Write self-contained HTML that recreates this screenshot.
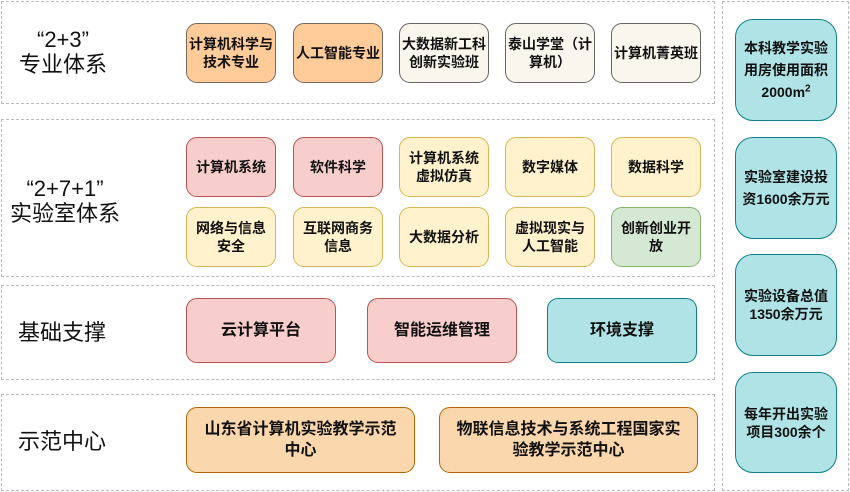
<!DOCTYPE html>
<html><head><meta charset="utf-8"><style>
body{margin:0;width:850px;height:492px;background:#fff;position:relative;overflow:hidden;font-family:"Liberation Sans","Noto Sans CJK SC",sans-serif}
.d{position:absolute;border:1px dashed #bbb;box-sizing:border-box}
.b{position:absolute;box-sizing:border-box;border:1px solid;border-radius:11px;display:flex;align-items:center;justify-content:center;text-align:center;font-weight:bold;font-size:14px;line-height:18px;color:#111}
.l{position:absolute;text-align:center;font-size:22px;line-height:25px;color:#111}
.or{background:#ffcc99;border-color:#7a6a5a}
.cr{background:#f9f7ed;border-color:#666}
.pk{background:#f8cecc;border-color:#b85450}
.ye{background:#fff2cc;border-color:#d6b656}
.gr{background:#d5e8d4;border-color:#82b366}
.te{background:#b0e3e6;border-color:#0e8088}
.o2{background:#fad7ac;border-color:#b46504}
</style></head><body>
<div class="d" style="left:1px;top:1px;width:714px;height:103px"></div>
<div class="d" style="left:1px;top:119px;width:714px;height:158px"></div>
<div class="d" style="left:1px;top:285px;width:714px;height:95px"></div>
<div class="d" style="left:1px;top:394px;width:714px;height:97px"></div>
<div class="d" style="left:722px;top:1px;width:127px;height:490px"></div>

<div class="l" style="left:8px;top:27px;width:110px">“2+3”<br>专业体系</div>
<div class="l" style="left:5px;top:176px;width:120px">“2+7+1”<br>实验室体系</div>
<div class="l" style="left:18px;top:320px;width:110px;text-align:left">基础支撑</div>
<div class="l" style="left:18px;top:429px;width:110px;text-align:left">示范中心</div>

<div class="b or" style="left:186px;top:23px;width:90px;height:60px"><span>计算机科学与<br>技术专业</span></div>
<div class="b or" style="left:293px;top:23px;width:90px;height:60px"><span>人工智能专业</span></div>
<div class="b cr" style="left:399px;top:23px;width:90px;height:60px"><span>大数据新工科<br>创新实验班</span></div>
<div class="b cr" style="left:505px;top:23px;width:90px;height:60px"><span>泰山学堂（计<br>算机）</span></div>
<div class="b cr" style="left:611px;top:23px;width:90px;height:60px"><span>计算机菁英班</span></div>

<div class="b pk" style="left:186px;top:137px;width:90px;height:60px"><span>计算机系统</span></div>
<div class="b pk" style="left:293px;top:137px;width:90px;height:60px"><span>软件科学</span></div>
<div class="b ye" style="left:399px;top:137px;width:90px;height:60px"><span>计算机系统<br>虚拟仿真</span></div>
<div class="b ye" style="left:505px;top:137px;width:90px;height:60px"><span>数字媒体</span></div>
<div class="b ye" style="left:611px;top:137px;width:90px;height:60px"><span>数据科学</span></div>
<div class="b ye" style="left:186px;top:207px;width:90px;height:60px"><span>网络与信息<br>安全</span></div>
<div class="b ye" style="left:293px;top:207px;width:90px;height:60px"><span>互联网商务<br>信息</span></div>
<div class="b ye" style="left:399px;top:207px;width:90px;height:60px"><span>大数据分析</span></div>
<div class="b ye" style="left:505px;top:207px;width:90px;height:60px"><span>虚拟现实与<br>人工智能</span></div>
<div class="b gr" style="left:611px;top:207px;width:90px;height:60px"><span>创新创业开<br>放</span></div>

<div class="b pk" style="left:186px;top:298px;width:150px;height:65px;font-size:16px"><span>云计算平台</span></div>
<div class="b pk" style="left:367px;top:298px;width:150px;height:65px;font-size:16px"><span>智能运维管理</span></div>
<div class="b te" style="left:547px;top:298px;width:150px;height:65px;font-size:16px"><span>环境支撑</span></div>

<div class="b o2" style="left:186px;top:407px;width:229px;height:66px;font-size:16px;line-height:21px"><span>山东省计算机实验教学示范<br>中心</span></div>
<div class="b o2" style="left:439px;top:407px;width:259px;height:66px;font-size:16px;line-height:21px"><span>物联信息技术与系统工程国家实<br>验教学示范中心</span></div>

<div class="b te" style="left:735px;top:19px;width:102px;height:102px;border-radius:18px;line-height:22px"><span>本科教学实验<br>用房使用面积<br>2000m<sup style="font-size:10px;line-height:0">2</sup></span></div>
<div class="b te" style="left:735px;top:137px;width:102px;height:102px;border-radius:18px;line-height:22px"><span>实验室建设投<br>资1600余万元</span></div>
<div class="b te" style="left:735px;top:254px;width:102px;height:102px;border-radius:18px"><span>实验设备总值<br>1350余万元</span></div>
<div class="b te" style="left:735px;top:372px;width:102px;height:101px;border-radius:18px"><span>每年开出实验<br>项目300余个</span></div>
</body></html>
